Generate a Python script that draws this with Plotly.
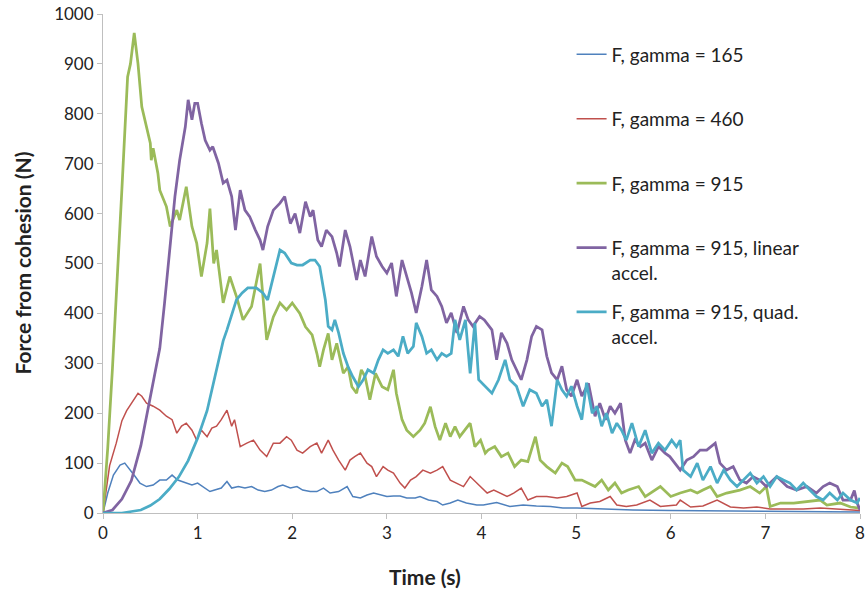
import plotly.graph_objects as go

# ---------------- data ----------------
t_165 = [0, 0.05, 0.11, 0.18, 0.23, 0.29, 0.34, 0.39, 0.46, 0.53, 0.60, 0.67, 0.73, 0.79, 0.87, 0.94,
         1.00, 1.08, 1.13, 1.18, 1.25, 1.31, 1.36, 1.43, 1.50, 1.57, 1.64, 1.71, 1.78, 1.85, 1.90, 1.98,
         2.05, 2.11, 2.19, 2.26, 2.33, 2.40, 2.49, 2.58, 2.64, 2.72, 2.79, 2.86, 2.93, 3.00, 3.07, 3.14,
         3.21, 3.30, 3.35, 3.44, 3.53, 3.59, 3.67, 3.75, 3.84, 3.95, 4.02, 4.16, 4.30, 4.44, 4.58, 4.73,
         4.86, 5.01, 5.30, 5.60, 6.00, 6.50, 7.00, 7.50, 8.00]
f_165 = [0, 40, 76, 96, 100, 86, 73, 60, 53, 56, 66, 66, 76, 66, 60, 56,
         60, 50, 43, 46, 50, 63, 50, 53, 50, 53, 46, 43, 46, 53, 56, 50,
         53, 46, 43, 43, 50, 40, 43, 53, 33, 30, 36, 40, 36, 33, 34, 34,
         30, 30, 33, 26, 23, 16, 20, 26, 20, 16, 16, 21, 13, 16, 14, 13,
         10, 10, 8, 6, 5, 4, 3, 3, 2]

t_460 = [0, 0.07, 0.14, 0.20, 0.25, 0.32, 0.37, 0.41, 0.46, 0.53, 0.60, 0.67, 0.73, 0.78, 0.83, 0.88, 0.94,
         0.99, 1.04, 1.10, 1.15, 1.20, 1.25, 1.31, 1.36, 1.39, 1.45, 1.52, 1.59, 1.66, 1.73, 1.80, 1.87,
         1.94, 1.99, 2.05, 2.11, 2.19, 2.26, 2.31, 2.38, 2.43, 2.49, 2.56, 2.61, 2.66, 2.72, 2.79, 2.84,
         2.89, 2.96, 3.01, 3.07, 3.14, 3.19, 3.25, 3.31, 3.38, 3.46, 3.53, 3.59, 3.67, 3.74, 3.81, 3.88,
         3.95, 3.99, 4.06, 4.13, 4.20, 4.27, 4.34, 4.42, 4.49, 4.58, 4.69, 4.80, 4.90, 5.01, 5.06, 5.15,
         5.25, 5.36, 5.43, 5.53, 5.64, 5.78, 5.89, 6.06, 6.10, 6.21, 6.34, 6.49, 6.63, 6.77, 6.91, 7.05,
         7.23, 7.40, 7.58, 7.76, 7.93, 8.00]
f_460 = [0, 95, 140, 185, 205, 227, 240, 234, 220, 214, 206, 194, 187, 160, 174, 180, 166,
         146, 166, 153, 170, 174, 187, 206, 174, 187, 133, 140, 146, 126, 113, 140, 140,
         153, 146, 126, 120, 133, 140, 120, 146, 126, 106, 86, 106, 113, 120, 100, 93,
         73, 93, 86, 80, 60, 50, 66, 73, 86, 80, 86, 93, 66, 60, 53, 73,
         60, 53, 40, 46, 40, 33, 40, 50, 26, 33, 33, 30, 33, 40, 13, 20,
         23, 33, 16, 13, 16, 26, 13, 16, 26, 12, 14, 26, 12, 10, 12, 8,
         8, 8, 10, 8, 6, 5]

t_915 = [0, 0.05, 0.10, 0.15, 0.20, 0.26, 0.29, 0.33, 0.37, 0.41, 0.46, 0.50, 0.51, 0.53, 0.58, 0.60,
         0.67, 0.71, 0.78, 0.81, 0.88, 0.94, 0.99, 1.04, 1.10, 1.13, 1.17, 1.20, 1.27, 1.34, 1.41, 1.48,
         1.57, 1.66, 1.73, 1.80, 1.87, 1.94, 2.00, 2.08, 2.14, 2.21, 2.26, 2.29, 2.33, 2.38, 2.42, 2.47,
         2.54, 2.59, 2.63, 2.68, 2.73, 2.77, 2.82, 2.88, 2.95, 3.01, 3.07, 3.10, 3.16, 3.21, 3.28, 3.35,
         3.40, 3.46, 3.51, 3.56, 3.62, 3.67, 3.72, 3.77, 3.88, 3.93, 3.99, 4.04, 4.07, 4.14, 4.21, 4.28,
         4.35, 4.42, 4.49, 4.57, 4.62, 4.69, 4.78, 4.85, 4.91, 4.99, 5.06, 5.13, 5.20, 5.27, 5.34, 5.41,
         5.48, 5.55, 5.66, 5.73, 5.84, 5.89, 6.00, 6.10, 6.21, 6.28, 6.34, 6.42, 6.49, 6.59, 6.73, 6.84,
         6.94, 7.01, 7.05, 7.16, 7.30, 7.47, 7.58, 7.65, 7.79, 7.90, 8.00]
f_915 = [0, 130, 290, 460, 650, 874, 900, 962, 900, 814, 774, 741, 707, 731, 681, 647,
         614, 574, 607, 587, 654, 574, 541, 474, 541, 610, 500, 527, 421, 474, 434, 387,
         414, 500, 347, 393, 421, 407, 421, 400, 373, 357, 320, 293, 327, 360, 307, 340,
         280, 293, 253, 240, 287, 273, 227, 280, 253, 247, 287, 240, 187, 166, 153, 166,
         180, 213, 173, 146, 180, 153, 173, 153, 180, 133, 146, 120, 126, 133, 113, 120,
         93, 106, 103, 153, 106, 93, 80, 100, 93, 66, 66, 60, 53, 66, 46, 60,
         40, 46, 53, 33, 46, 53, 33, 40, 46, 40, 46, 53, 33, 40, 46, 53,
         40, 53, 13, 20, 20, 23, 26, 16, 20, 12, 10]

t_lin = [0, 0.10, 0.20, 0.30, 0.40, 0.50, 0.60, 0.65, 0.71, 0.76, 0.81, 0.87, 0.90, 0.94, 0.97, 1.00,
         1.04, 1.08, 1.13, 1.16, 1.22, 1.27, 1.31, 1.36, 1.40, 1.45, 1.50, 1.55, 1.61, 1.66, 1.69, 1.74,
         1.80, 1.87, 1.92, 1.98, 2.03, 2.08, 2.14, 2.19, 2.22, 2.27, 2.31, 2.36, 2.42, 2.47, 2.50, 2.56,
         2.61, 2.68, 2.72, 2.77, 2.84, 2.89, 2.95, 3.00, 3.05, 3.10, 3.16, 3.21, 3.26, 3.31, 3.37, 3.42,
         3.47, 3.53, 3.58, 3.63, 3.68, 3.74, 3.81, 3.86, 3.91, 3.98, 4.03, 4.11, 4.16, 4.21, 4.27, 4.32,
         4.37, 4.42, 4.48, 4.53, 4.58, 4.64, 4.69, 4.74, 4.80, 4.85, 4.90, 4.95, 5.01, 5.06, 5.13, 5.20,
         5.25, 5.31, 5.36, 5.41, 5.47, 5.52, 5.57, 5.62, 5.68, 5.73, 5.80, 5.87, 5.94, 5.99, 6.10, 6.17,
         6.24, 6.31, 6.38, 6.47, 6.52, 6.59, 6.66, 6.73, 6.80, 6.87, 6.94, 7.01, 7.12, 7.23, 7.33, 7.44,
         7.54, 7.61, 7.68, 7.76, 7.82, 7.90, 7.94, 7.97, 8.00]
f_lin = [0, 6, 28, 65, 135, 235, 330, 420, 541, 634, 707, 774, 828, 788, 821, 821,
         781, 747, 727, 734, 701, 661, 667, 634, 567, 647, 607, 594, 567, 547, 527, 574,
         607, 621, 634, 580, 600, 561, 624, 594, 607, 547, 534, 567, 554, 521, 494, 567,
         534, 467, 507, 474, 554, 514, 494, 481, 501, 434, 507, 474, 441, 401, 454, 507,
         447, 434, 414, 381, 401, 361, 414, 387, 374, 394, 387, 367, 307, 361, 340, 307,
         287, 267, 307, 354, 374, 367, 314, 281, 267, 294, 247, 234, 267, 234, 260, 194,
         220, 187, 214, 200, 220, 146, 120, 146, 133, 140, 106, 133, 120, 113, 86, 106,
         113, 126, 126, 140, 100, 86, 93, 66, 60, 73, 66, 53, 73, 53, 46, 53,
         40, 53, 60, 53, 26, 26, 45, 20, 6]

t_quad = [0, 0.20, 0.30, 0.40, 0.50, 0.60, 0.70, 0.80, 0.90, 1.00, 1.10, 1.20, 1.27, 1.31, 1.38, 1.41,
          1.47, 1.53, 1.62,
          1.69, 1.74, 1.80, 1.87, 1.92, 1.99, 2.05, 2.11, 2.19, 2.24, 2.29, 2.35, 2.38, 2.42, 2.45, 2.49,
          2.54, 2.59, 2.64, 2.70, 2.75, 2.80, 2.86, 2.91, 2.96, 3.01, 3.07, 3.12, 3.17, 3.22, 3.28, 3.31,
          3.37, 3.42, 3.47, 3.53, 3.58, 3.63, 3.68, 3.72, 3.77, 3.83, 3.88, 3.93, 3.97, 4.04, 4.11, 4.18,
          4.25, 4.30, 4.37, 4.44, 4.51, 4.58, 4.64, 4.69, 4.74, 4.80, 4.85, 4.90, 4.95, 5.01, 5.06, 5.11,
          5.17, 5.22, 5.27, 5.32, 5.38, 5.43, 5.48, 5.53, 5.59, 5.66, 5.73, 5.80, 5.87, 5.94, 6.01, 6.06,
          6.10, 6.13, 6.21, 6.28, 6.34, 6.42, 6.49, 6.56, 6.63, 6.70, 6.77, 6.84, 6.91, 6.98, 7.05, 7.12,
          7.19, 7.26, 7.33, 7.40, 7.47, 7.54, 7.61, 7.68, 7.76, 7.82, 7.90, 7.97, 8.00]
f_quad = [0, 0, 3, 6, 15, 28, 48, 72, 105, 150, 205, 285, 345, 367, 407, 427,
          441, 451, 451,
          441, 427, 474, 527, 521, 501, 497, 497, 507, 507, 494, 427, 374, 367, 387, 361,
          320, 293, 273, 253, 267, 287, 280, 307, 327, 320, 327, 314, 354, 320, 334, 381,
          354, 320, 327, 307, 320, 314, 320, 387, 347, 387, 280, 381, 267, 254, 240, 267,
          307, 267, 254, 214, 247, 240, 214, 227, 174, 267, 247, 234, 254, 214, 187, 261,
          200, 214, 174, 200, 160, 180, 166, 146, 180, 133, 166, 120, 140, 126, 146, 133,
          146, 86, 73, 100, 66, 93, 60, 86, 66, 53, 66, 80, 60, 73, 53, 73,
          66, 60, 46, 60, 46, 33, 26, 40, 26, 40, 26, 20, 30]

series_names = ["F, gamma = 165", "F, gamma = 460", "F, gamma = 915",
                "F, gamma = 915, linear<br>accel.", "F, gamma = 915, quad.<br>accel."]
x_ticks = [0, 1, 2, 3, 4, 5, 6, 7, 8]
y_ticks = [0, 100, 200, 300, 400, 500, 600, 700, 800, 900, 1000]
x_title = "Time (s)"
y_title = "Force from cohesion (N)"

colors = ["#4F81BD", "#C0504D", "#9BBB59", "#8064A2", "#4BACC6"]
widths = [1.5, 1.5, 2.75, 2.75, 2.75]

FONT = "Lato, 'Liberation Sans', Arial, sans-serif"
TXT = "#222222"

fig = go.Figure()
data = [(t_165, f_165), (t_460, f_460), (t_915, f_915), (t_lin, f_lin), (t_quad, f_quad)]
for i, ((tx, fy), name) in enumerate(zip(data, series_names)):
    label = name if "<br>" in name else name + "<br>&nbsp;"
    fig.add_trace(go.Scatter(
        x=tx, y=fy, mode="lines", name=label, legendgroup=f"g{i}",
        line=dict(color=colors[i], width=widths[i]),
    ))

axis_col = "#BFBFBF"
fig.update_layout(
    width=865, height=591,
    margin=dict(l=103, r=5, t=14, b=78, autoexpand=False),
    paper_bgcolor="white", plot_bgcolor="white",
    font=dict(family=FONT, size=17, color=TXT),
    showlegend=True,
    legend=dict(
        x=0.619, y=0.957, xanchor="left", yanchor="top",
        bgcolor="rgba(255,255,255,0)", font=dict(size=19, color=TXT),
        itemwidth=30, tracegroupgap=12, valign="top", traceorder="grouped",
    ),
    xaxis=dict(
        range=[0, 8], tickvals=x_ticks, showgrid=False, zeroline=False,
        showline=True, linecolor=axis_col, linewidth=1,
        ticks="outside", ticklen=5, tickcolor=axis_col,
        tickfont=dict(size=17), automargin=False, ticklabeloverflow="allow",
    ),
    yaxis=dict(
        range=[0, 1000], tickvals=y_ticks, showgrid=False, zeroline=False,
        showline=True, linecolor=axis_col, linewidth=1,
        ticks="outside", ticklen=5, tickcolor=axis_col,
        tickfont=dict(size=17), automargin=False,
    ),
    annotations=[
        dict(text=f"<b>{x_title}</b>", xref="paper", yref="paper",
             x=(425 - 103) / 757, y=(513 - 576) / 499, xanchor="center", yanchor="middle",
             showarrow=False, font=dict(size=21, color=TXT)),
        dict(text=f"<b>{y_title}</b>", xref="paper", yref="paper",
             x=(22 - 103) / 757, y=0.5, xanchor="center", yanchor="middle", textangle=-90,
             showarrow=False, font=dict(size=21, color=TXT)),
    ],
)

# remove the browser's default 8px page margin so the figure fills the window
fig.write_html("out.html", config={"displayModeBar": False},
               post_script="document.body.style.margin='0';")
